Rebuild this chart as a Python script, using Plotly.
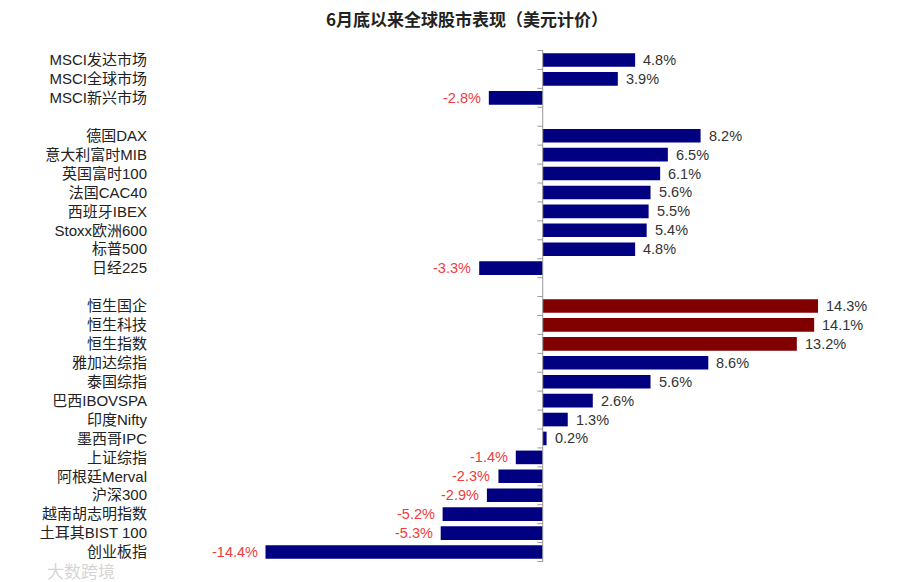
import plotly.graph_objects as go

# categories top to bottom, blank names are the gaps between groups
categories = [
    "MSCI发达市场", "MSCI全球市场", "MSCI新兴市场", " ",
    "德国DAX", "意大利富时MIB", "英国富时100", "法国CAC40", "西班牙IBEX",
    "Stoxx欧洲600", "标普500", "日经225", "  ",
    "恒生国企", "恒生科技", "恒生指数", "雅加达综指", "泰国综指", "巴西IBOVSPA",
    "印度Nifty", "墨西哥IPC", "上证综指", "阿根廷Merval", "沪深300",
    "越南胡志明指数", "土耳其BIST 100", "创业板指",
]
values = [
    4.8, 3.9, -2.8, None,
    8.2, 6.5, 6.1, 5.6, 5.5, 5.4, 4.8, -3.3, None,
    14.3, 14.1, 13.2, 8.6, 5.6, 2.6, 1.3, 0.2, -1.4, -2.3, -2.9, -5.2, -5.3, -14.4,
]
highlight = ["恒生国企", "恒生科技", "恒生指数"]

bar_colors = ["#800000" if c in highlight else "#000080" for c in categories]

fig = go.Figure()
fig.add_trace(go.Bar(
    x=values,
    y=categories,
    orientation="h",
    marker=dict(color=bar_colors, line=dict(width=0)),
    hoverinfo="skip",
))

# value labels next to the bar ends
for c, v in zip(categories, values):
    if v is None:
        continue
    pos = v >= 0
    fig.add_annotation(
        x=v, y=c, xref="x", yref="y", text=f"{v:.1f}%", showarrow=False,
        xanchor="left" if pos else "right", xshift=6 if pos else -6,
        font=dict(size=14.5, color="#333333" if pos else "#F03C3C",
                  family="Liberation Sans, Arial"),
    )

fig.update_layout(
    width=900,
    height=582,
    paper_bgcolor="white",
    plot_bgcolor="white",
    showlegend=False,
    bargap=0.28,
    margin=dict(l=142, r=38, t=42, b=28),
    font=dict(family="Liberation Sans, Noto Sans CJK SC", size=15, color="#222222"),
)

# chart title
fig.add_annotation(
    text="<b>6月底以来全球股市表现（美元计价）</b>", xref="paper", yref="paper",
    x=0.44, y=1.062, xanchor="center", yanchor="middle", showarrow=False,
    font=dict(size=17, color="#222222", family="Noto Sans CJK SC, Liberation Sans"),
)

fig.update_xaxes(
    range=[-20.4, 17.0],
    showgrid=False,
    zeroline=False,
    showticklabels=False,
    showline=False,
    ticks="",
    automargin=False,
)

fig.update_yaxes(
    autorange="reversed",
    type="category",
    showgrid=False,
    zeroline=False,
    showline=False,
    ticks="",
    automargin=False,
    tickfont=dict(size=15, color="#222222", family="Liberation Sans, Noto Sans CJK SC"),
    ticklabelstandoff=2,
)

# vertical axis line at zero with small ticks at category boundaries
fig.add_shape(type="line", xref="x", yref="paper", x0=0, x1=0, y0=0, y1=1,
              line=dict(color="#9a9a9a", width=1))
for i in range(len(categories) + 1):
    fig.add_shape(type="line", xref="x", yref="y", x0=-0.28, x1=0,
                  y0=i - 0.5, y1=i - 0.5, line=dict(color="#9a9a9a", width=1))

# faint watermark
fig.add_annotation(
    text="大数跨境", xref="paper", yref="paper", x=-0.146, y=-0.017,
    xanchor="left", yanchor="middle", showarrow=False,
    font=dict(size=17, color="rgba(205,205,205,0.85)", family="Noto Sans CJK SC"),
)

fig.write_html("out.html")
